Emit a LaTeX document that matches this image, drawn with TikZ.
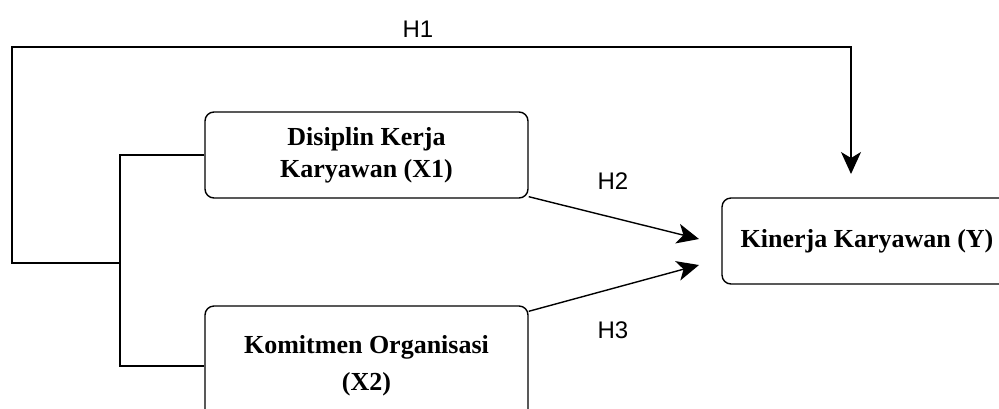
\documentclass[tikz,border=0pt]{standalone}
\usepackage{fontspec}
\setmainfont{Liberation Serif}
\newfontfamily\hypfont{Liberation Sans}
\usetikzlibrary{arrows.meta}

\begin{document}
\begin{tikzpicture}
[x=0.5pt, y=-0.5pt,
var/.style ={rectangle, draw=black, line width=0.7pt, align=center, rounded corners=4.5pt, font=\fontsize{13}{16}\selectfont\bfseries, minimum width=161.5pt, minimum height=43pt},
hyp/.style ={font=\hypfont\fontsize{12}{14}\selectfont},
line/.style ={draw, line width=0.7pt, -{Stealth[length=11pt, width=10pt, inset=3pt]}},
plain/.style ={draw, line width=0.7pt}]
\useasboundingbox (0, 0) rectangle (999, 408);
\clip (0, 0) rectangle (999, 408);
\draw (366.5, 155) node[var] (x1) {Disiplin Kerja\\Karyawan (X1)};
\draw (366.5, 366) node[var, minimum height=60pt] (x2) {Komitmen Organisasi\\[2.5pt](X2)};
\draw (867, 241) node[var, minimum width=145pt] (y) {Kinerja Karyawan (Y)};
\draw (418, 29) node[hyp] (h1) {H1};
\draw (613, 181) node[hyp] (h2) {H2};
\draw (613, 330) node[hyp] (h3) {H3};
\coordinate (join) at (120, 263);
\coordinate (h1end) at (851, 174);
\draw[plain] (x1.west) -| (join) |- (x2.west);
\draw[line] (join) -- (12, 263) |- (851, 47) -- (h1end);
\draw[line] (x1.south east) ++(0, -2) -- (699, 239);
\draw[line] (x2.north east) ++(0, 6) -- (699, 265);
\end{tikzpicture}
\end{document}
